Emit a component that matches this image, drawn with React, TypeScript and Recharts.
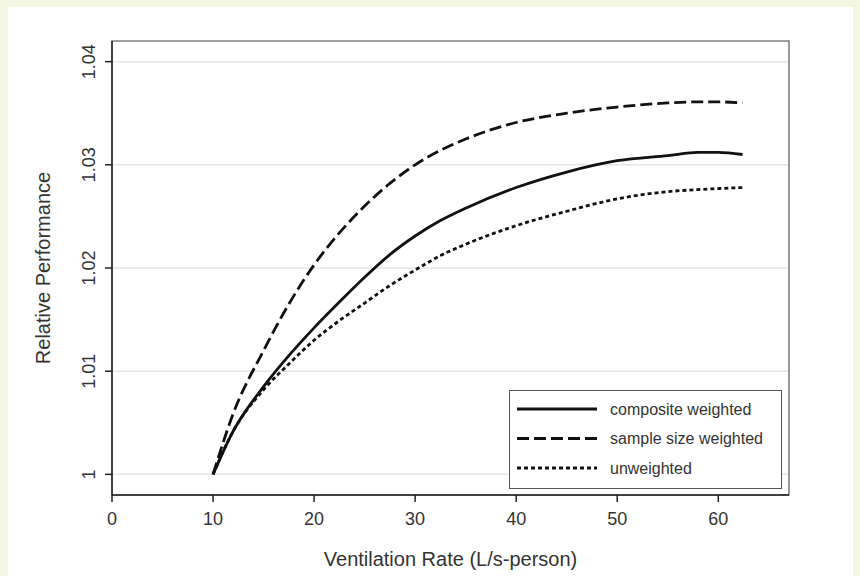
import { LineChart, Line, XAxis, YAxis, CartesianGrid, ReferenceArea, Legend } from 'recharts';

// Ventilation rate (L/s-person) sample points
const ventilation = [10, 12, 15, 17.5, 20, 22.5, 25, 27.5, 30, 32.5, 35, 40, 45, 50, 55, 58, 60, 62.4];

// relative performance for each weighting
const composite = [1.0, 1.0042, 1.0085, 1.0115, 1.0142, 1.0167, 1.0191, 1.0213, 1.0231, 1.0246, 1.0258, 1.0278, 1.0293, 1.0304, 1.0309, 1.0312, 1.0312, 1.031];
const sampleSize = [1.0, 1.0059, 1.012, 1.0165, 1.0203, 1.0234, 1.026, 1.0282, 1.03, 1.0314, 1.0325, 1.0341, 1.035, 1.0356, 1.036, 1.0361, 1.0361, 1.036];
const unweighted = [1.0, 1.0042, 1.0082, 1.0107, 1.013, 1.0149, 1.0166, 1.0183, 1.0198, 1.0212, 1.0223, 1.0241, 1.0255, 1.0267, 1.0274, 1.0276, 1.0277, 1.0278];

const xTicks = [0, 10, 20, 30, 40, 50, 60];
const yTicks = [1, 1.01, 1.02, 1.03, 1.04];

const series = [
  { key: 'composite', name: 'composite weighted', dash: undefined },
  { key: 'sampleSize', name: 'sample size weighted', dash: '12 5' },
  { key: 'unweighted', name: 'unweighted', dash: '4 3' },
];

const data = ventilation.map((v, i) => ({
  v,
  composite: composite[i],
  sampleSize: sampleSize[i],
  unweighted: unweighted[i],
}));

const FONT = '"Liberation Sans", Arial, sans-serif';

const YTick = ({ x, y, payload }: any) => {
  const label = payload.value === 1 ? '1' : payload.value.toFixed(2);
  const bx = x - 8;
  return (
    <text
      x={bx}
      y={y}
      transform={`rotate(-90 ${bx} ${y})`}
      textAnchor="middle"
      fill="#333"
      fontSize={18}
      fontFamily={FONT}
    >
      {label}
    </text>
  );
};

const YLabel = ({ viewBox }: any) => {
  const cx = 35;
  const cy = viewBox.y + viewBox.height / 2;
  return (
    <text
      x={cx}
      y={cy}
      transform={`rotate(-90 ${cx} ${cy})`}
      textAnchor="middle"
      dominantBaseline="central"
      fill="#333"
      fontSize={20}
      fontFamily={FONT}
    >
      Relative Performance
    </text>
  );
};

const LegendBox = () => (
  <div style={{ width: 273, height: 99, boxSizing: 'border-box', border: '1.5px solid #555', background: '#fff' }}>
    <svg width={270} height={96}>
      {series.map((s, i) => {
        const cy = 18 + i * 29.5;
        return (
          <g key={s.key}>
            <line x1={7} x2={87} y1={cy} y2={cy} stroke="#111" strokeWidth={2.8} strokeDasharray={s.dash} />
            <text x={100} y={cy} dominantBaseline="central" fontSize={16} fill="#333" fontFamily={FONT}>
              {s.name}
            </text>
          </g>
        );
      })}
    </svg>
  </div>
);

export default function App() {
  return (
    <div style={{ position: 'absolute', left: 0, top: 0, width: 860, height: 576, background: '#f3f6e2' }}>
      <div style={{ position: 'absolute', left: 8, top: 7, width: 845, height: 569, background: '#fff' }}>
        <LineChart width={845} height={569} data={data} margin={{ top: 34, right: 64, bottom: 0, left: 0 }}>
          <CartesianGrid vertical={false} stroke="#e6e6e6" strokeWidth={1.5} />
          <ReferenceArea x1={0} x2={67} y1={0.998} y2={1.042} fill="none" stroke="#555" strokeWidth={1.2} ifOverflow="visible" />
          <XAxis
            dataKey="v"
            type="number"
            domain={[0, 67]}
            ticks={xTicks}
            height={81}
            stroke="#222"
            strokeWidth={1.5}
            tickSize={7}
            tickMargin={10}
            tick={{ fill: '#333', fontSize: 18, fontFamily: FONT }}
            label={{ value: 'Ventilation Rate (L/s-person)', position: 'insideBottom', offset: 10, fill: '#333', fontSize: 20, fontFamily: FONT }}
          />
          <YAxis
            type="number"
            domain={[0.998, 1.042]}
            ticks={yTicks}
            width={104}
            stroke="#222"
            strokeWidth={1.5}
            tickSize={7}
            tick={<YTick />}
            label={<YLabel />}
          />
          <Legend
            layout="horizontal"
            verticalAlign="middle"
            align="center"
            content={<LegendBox />}
            wrapperStyle={{ left: 501, top: 383, width: 273, height: 99 }}
          />
          {series.map((s) => (
            <Line
              key={s.key}
              dataKey={s.key}
              name={s.name}
              type="monotone"
              stroke="#111"
              strokeWidth={2.8}
              strokeDasharray={s.dash}
              dot={false}
              activeDot={false}
              isAnimationActive={false}
            />
          ))}
        </LineChart>
      </div>
    </div>
  );
}
